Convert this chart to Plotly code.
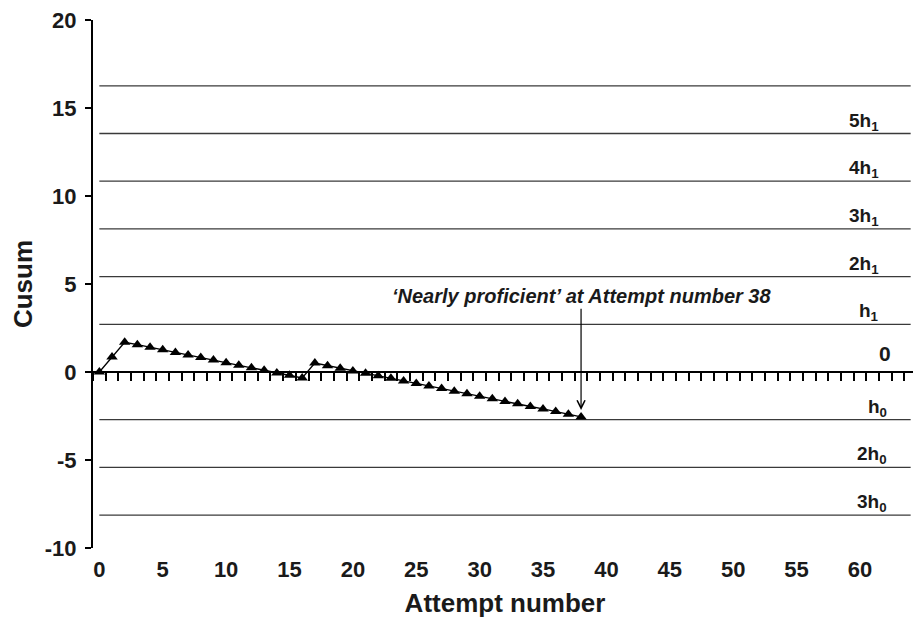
import plotly.graph_objects as go

# ---- data ----
attempts = list(range(0, 39))
cusum = [0.00, 0.85, 1.69, 1.55, 1.40, 1.26, 1.11, 0.97, 0.82, 0.68,
         0.53, 0.39, 0.24, 0.10, -0.05, -0.19, -0.34, 0.51, 0.36, 0.22,
         0.05, -0.07, -0.22, -0.36, -0.51, -0.65, -0.80, -0.94, -1.09, -1.23,
         -1.38, -1.52, -1.67, -1.81, -1.96, -2.10, -2.25, -2.40, -2.55]

h1 = 2.71
h0 = -2.71
limit_multiples = [6, 5, 4, 3, 2, 1, 0, 1, 2, 3]
limit_base = ["h1", "h1", "h1", "h1", "h1", "h1", "zero", "h0", "h0", "h0"]
limit_labels = ["", "5h<sub>1</sub>", "4h<sub>1</sub>", "3h<sub>1</sub>", "2h<sub>1</sub>",
                "h<sub>1</sub>", "0", "h<sub>0</sub>", "2h<sub>0</sub>", "3h<sub>0</sub>"]
line_x = [0, 64]

x_ticks = list(range(0, 61, 5))
x_tick_text = [str(v) for v in x_ticks]
y_ticks = list(range(-10, 21, 5))
y_tick_text = ["-10", "-5", "0", "5", "10", "15", "20"]

annotation_text = "\u2018Nearly proficient\u2019 at Attempt number 38"
annotation_attempt = 38
annotation_text_y = 4.3

FONT = "Liberation Sans, Arial, Helvetica, sans-serif"
TXT = "#1a1a1a"

fig = go.Figure()

limit_values = []
for m, b in zip(limit_multiples, limit_base):
    base = h1 if b == "h1" else (h0 if b == "h0" else 0.0)
    limit_values.append(m * base)

# threshold lines (0 is drawn by the zero axis)
for v, b in zip(limit_values, limit_base):
    if b == "zero":
        continue
    fig.add_trace(go.Scatter(x=line_x, y=[v, v], mode="lines",
                             line=dict(color="#3a3a3a", width=1.3),
                             hoverinfo="skip", showlegend=False))

fig.add_trace(go.Scatter(x=attempts, y=cusum, mode="lines+markers",
                         line=dict(color="black", width=1.3),
                         marker=dict(symbol="triangle-up", size=10, color="black"),
                         showlegend=False))

# dummy trace so the zero axis renders
fig.add_trace(go.Scatter(x=[None], y=[None], xaxis="x2", yaxis="y",
                         showlegend=False, hoverinfo="skip"))

annotations = []
for v, b, lab in zip(limit_values, limit_base, limit_labels):
    if not lab:
        continue
    if b == "h1":
        annotations.append(dict(x=61.65, y=v, xref="x", yref="y", text=lab,
                                showarrow=False, xanchor="right", yanchor="bottom",
                                yshift=-2,
                                font=dict(family=FONT, size=19, color=TXT, weight="bold")))
    elif b == "h0":
        annotations.append(dict(x=62.3, y=v, xref="x", yref="y", text=lab,
                                showarrow=False, xanchor="right", yanchor="bottom",
                                yshift=-2,
                                font=dict(family=FONT, size=19, color=TXT, weight="bold")))
    else:
        annotations.append(dict(x=62.0, y=v, xref="x", yref="y", text=lab,
                                showarrow=False, xanchor="center", yanchor="bottom",
                                yshift=5,
                                font=dict(family=FONT, size=21, color=TXT, weight="bold")))

annotations.append(dict(
    x=annotation_attempt, y=cusum[annotation_attempt], xref="x", yref="y",
    ax=annotation_attempt, ay=annotation_text_y, axref="x", ayref="y",
    text="<i>" + annotation_text + "</i>", showarrow=True,
    arrowhead=5, arrowsize=1.3, arrowwidth=1.2, arrowcolor="black", standoff=7,
    font=dict(family=FONT, size=20, color=TXT, weight="bold")))

fig.update_layout(
    width=913, height=615,
    margin=dict(l=85, r=4, t=12, b=75),
    paper_bgcolor="white", plot_bgcolor="white",
    font=dict(family=FONT, color=TXT),
    xaxis=dict(range=[-0.5, 64.5], tickvals=x_ticks, ticktext=x_tick_text,
               showline=False, ticks="", automargin=False,
               showgrid=False, zeroline=False, ticklabeloverflow="allow",
               tickfont=dict(family=FONT, size=22, weight="bold"),
               ticklabelstandoff=6,
               title=dict(text="Attempt number",
                          font=dict(family=FONT, size=26, weight="bold"),
                          standoff=12)),
    xaxis2=dict(range=[-0.5, 64.5], overlaying="x", anchor="free", position=1/3,
                side="bottom", showline=True, linecolor="black", linewidth=1.5,
                ticks="outside", tick0=0.5, dtick=1, ticklen=8, tickwidth=1.5,
                tickcolor="black", showticklabels=False, showgrid=False, zeroline=False),
    yaxis=dict(range=[-10, 20], tickvals=y_ticks, ticktext=y_tick_text,
               showline=True, linecolor="black", automargin=False,
               linewidth=2, ticks="outside", ticklen=6, tickwidth=2, tickcolor="black",
               showgrid=False, zeroline=False, ticklabeloverflow="allow",
               tickfont=dict(family=FONT, size=22, weight="bold"),
               ticklabelstandoff=4,
               title=dict(text="Cusum",
                          font=dict(family=FONT, size=26, weight="bold"),
                          standoff=12)),
    annotations=annotations,
)

fig.write_html("out.html")
